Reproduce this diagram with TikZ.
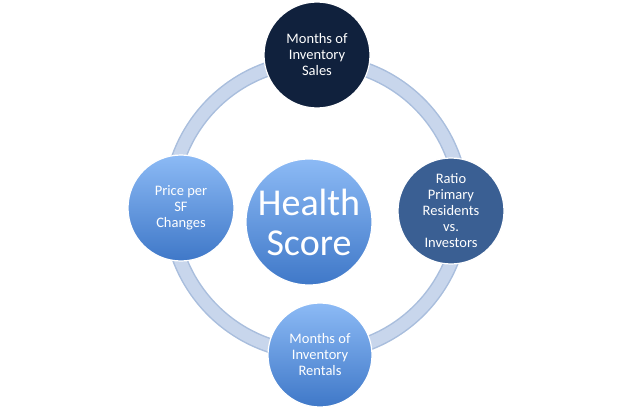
\documentclass[tikz,border=0pt]{standalone}
\usepackage{fontspec}
\setmainfont{Carlito}
\usetikzlibrary{shadings}
\definecolor{navy}{HTML}{10213D}
\definecolor{steel}{HTML}{3A5F93}
\definecolor{ringfill}{HTML}{C8D6EC}
\definecolor{ringedge}{HTML}{A9BEDD}
\definecolor{bluetop}{HTML}{8CBAF5}
\definecolor{bluebot}{HTML}{3F78C8}
\tikzset{
  bubble/.style={circle, draw=white, line width=1.2pt, text=white, align=center,
    font=\fontsize{14.5}{16}\selectfont, inner sep=0pt},
  lightbubble/.style={bubble, top color=bluetop, bottom color=bluebot},
}
\begin{document}
\begin{tikzpicture}[x=1pt,y=-1pt]
  \useasboundingbox (0,0) rectangle (642,417);
  % ring
  \draw[ringedge, line width=15pt] (316,207) circle (146);
  \draw[ringfill, line width=12pt] (316,207) circle (146);
  % nodes
  \node[lightbubble, minimum size=126pt, font=\fontsize{38}{40}\selectfont] (score) at (309,222) {Health\\Score};
  \node[bubble, fill=navy, minimum size=106pt] (sales) at (317,55) {Months of\\Inventory\\Sales};
  \node[bubble, fill=steel, minimum size=106pt] (ratio) at (451,211) {Ratio\\Primary\\Residents\\vs.\\Investors};
  \node[lightbubble, minimum size=104pt] (rentals) at (320,355) {Months of\\Inventory\\Rentals};
  \node[lightbubble, minimum size=106pt] (price) at (181,208) {Price per\\SF\\Changes};
\end{tikzpicture}
\end{document}
